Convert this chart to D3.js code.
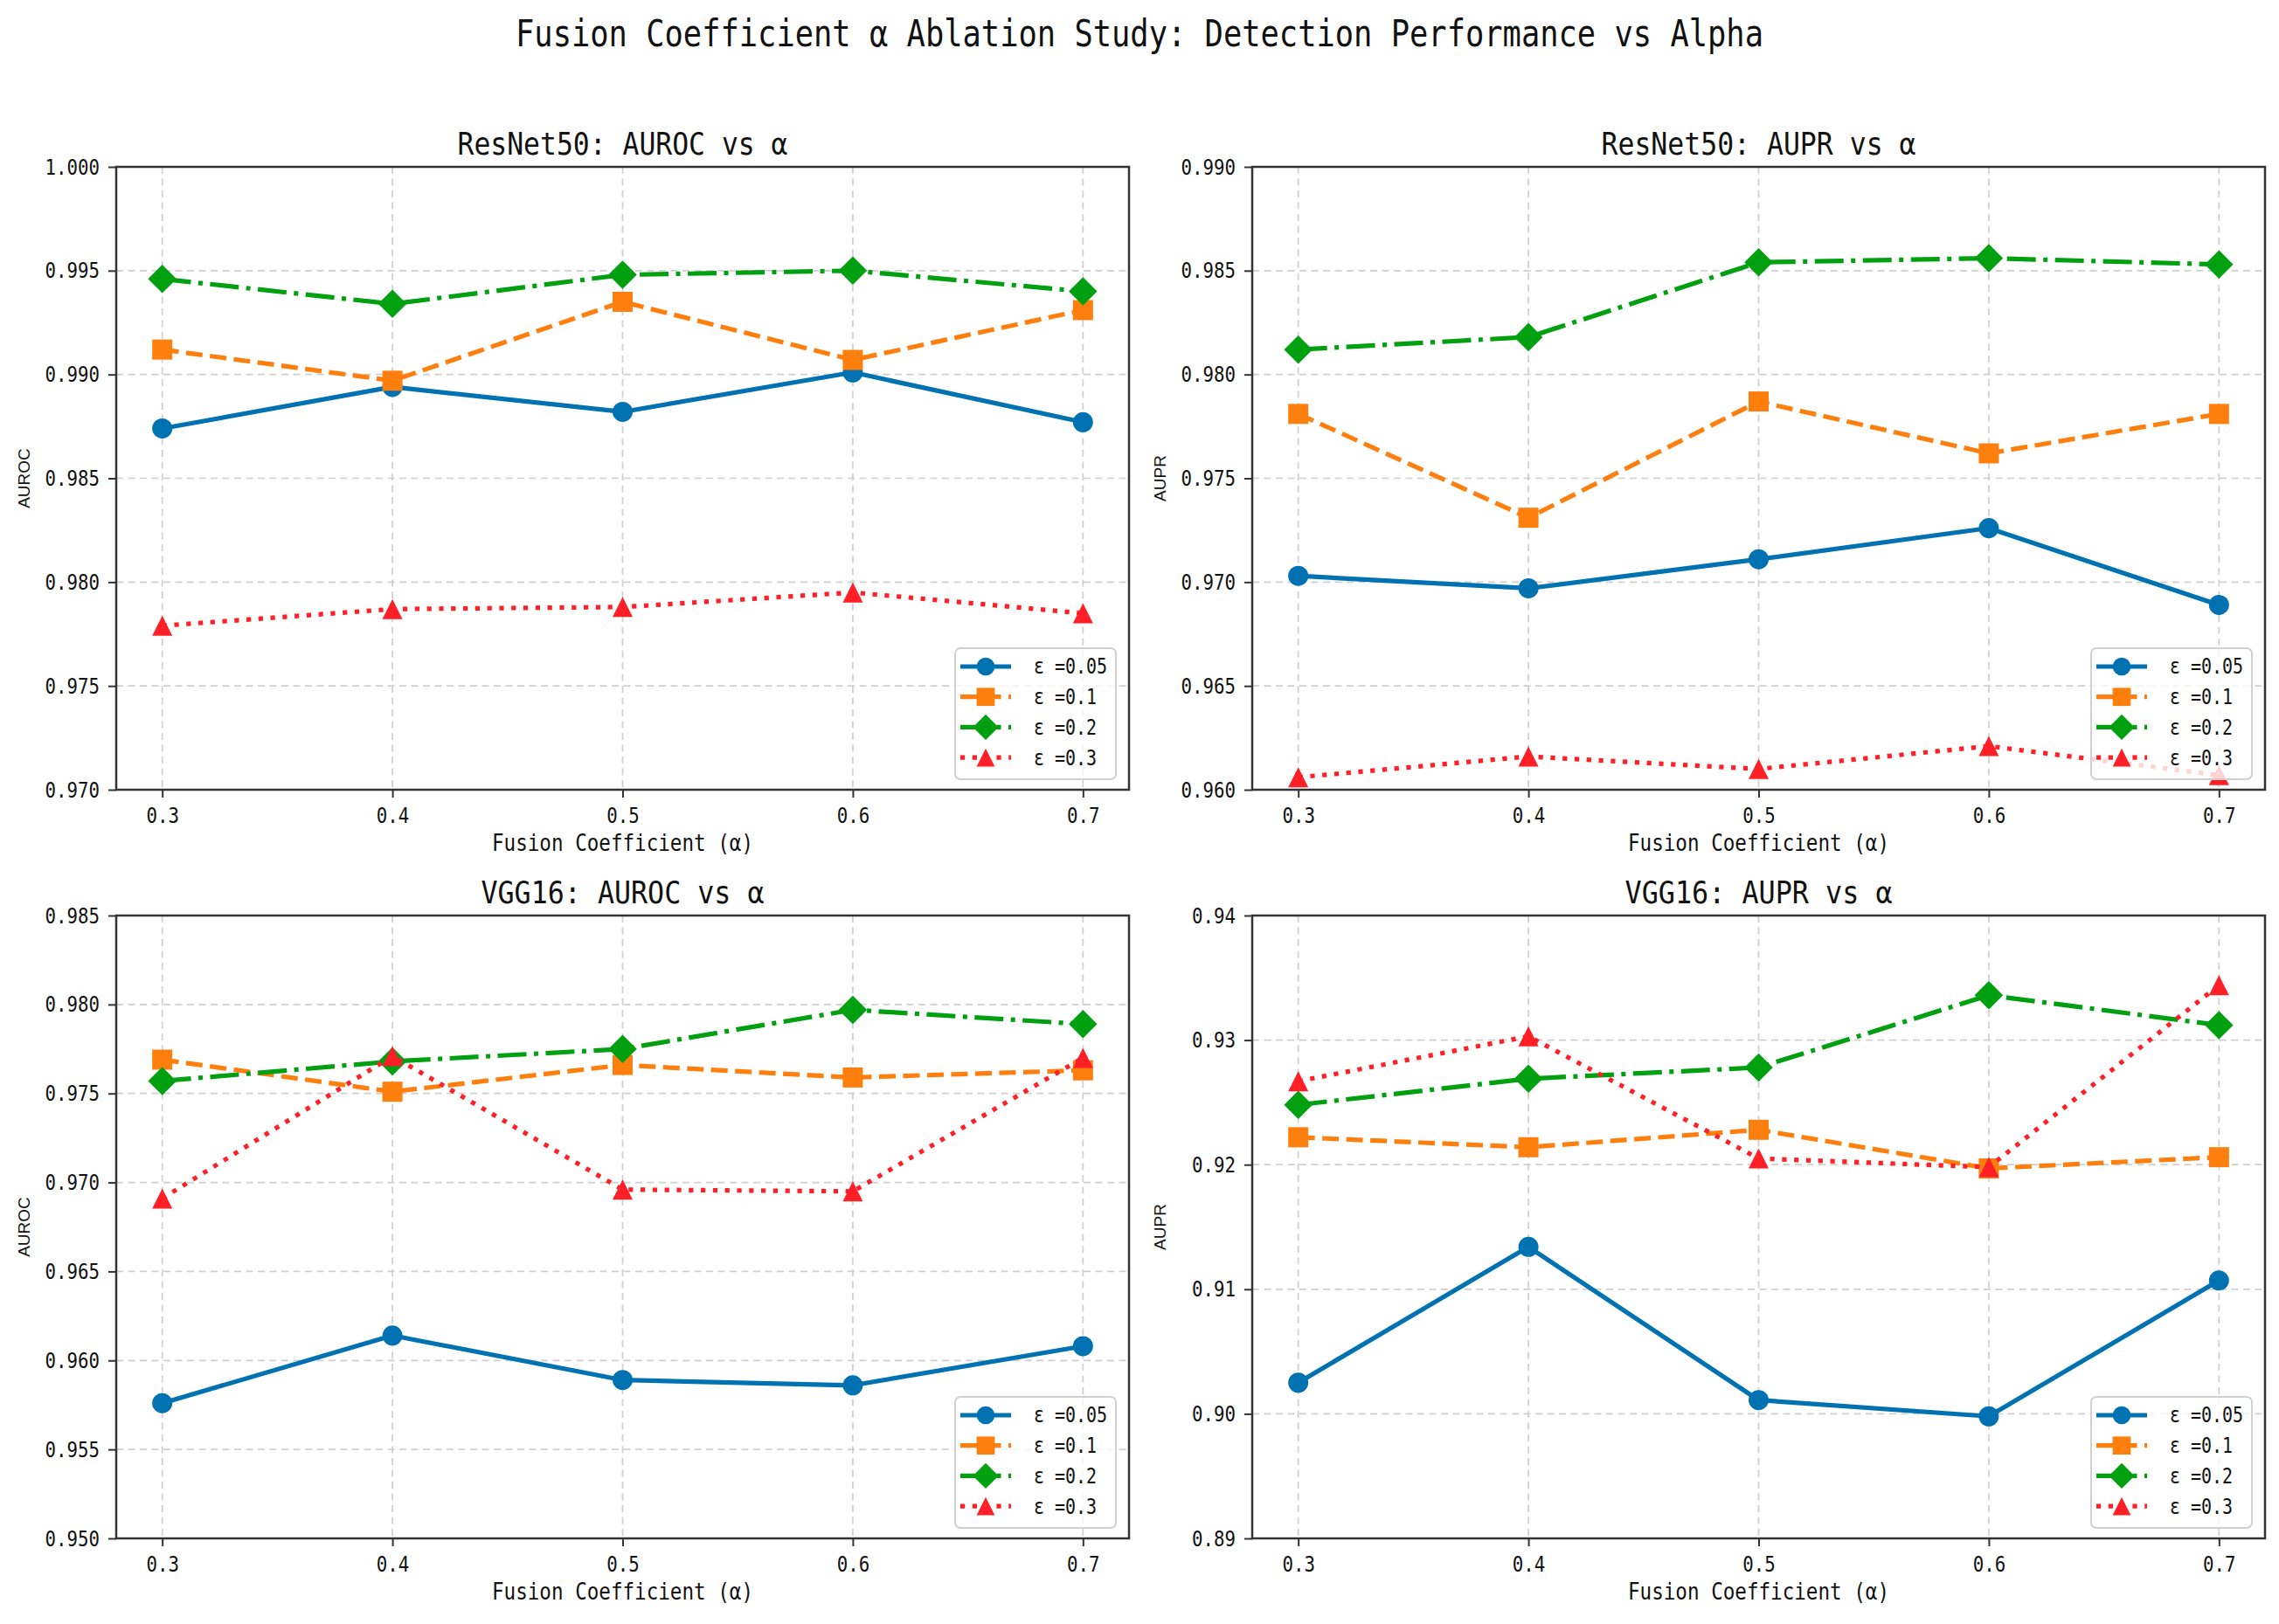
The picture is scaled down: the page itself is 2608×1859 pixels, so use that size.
<!DOCTYPE html>
<html>
<head>
<meta charset="utf-8">
<script src="https://cdn.jsdelivr.net/npm/d3@7"></script>
<style>
  html, body { margin: 0; padding: 0; background: #fff; }
  svg { display: block; }
</style>
</head>
<body>
<div id="chart"></div>
<script>
// x values shared by all four panels
const alphas = [0.3, 0.4, 0.5, 0.6, 0.7];
const epsLabels = ['ε =0.05', 'ε =0.1', 'ε =0.2', 'ε =0.3'];

// values, one row per epsilon
const resnetAuroc = [
    [0.9874, 0.9894, 0.9882, 0.9901, 0.9877],
    [0.9912, 0.9897, 0.9935, 0.9907, 0.9931],
    [0.9946, 0.9934, 0.9948, 0.9950, 0.9940],
    [0.9779, 0.9787, 0.9788, 0.9795, 0.9785]
];
const resnetAupr = [
    [0.9703, 0.9697, 0.9711, 0.9726, 0.9689],
    [0.9781, 0.9731, 0.9787, 0.9762, 0.9781],
    [0.9812, 0.9818, 0.9854, 0.9856, 0.9853],
    [0.9606, 0.9616, 0.9610, 0.9621, 0.9607]
];
const vggAuroc = [
    [0.9576, 0.9614, 0.9589, 0.9586, 0.9608],
    [0.9769, 0.9751, 0.9766, 0.9759, 0.9763],
    [0.9757, 0.9768, 0.9775, 0.9797, 0.9789],
    [0.9691, 0.9771, 0.9696, 0.9695, 0.9770]
];
const vggAupr = [
    [0.9025, 0.9134, 0.9011, 0.8998, 0.9107],
    [0.9222, 0.9214, 0.9228, 0.9197, 0.9206],
    [0.9248, 0.9269, 0.9278, 0.9336, 0.9312],
    [0.9267, 0.9303, 0.9205, 0.9198, 0.9344]
];

// tick values
const resnetAurocTicks = [0.970, 0.975, 0.980, 0.985, 0.990, 0.995, 1.000];
const resnetAuprTicks = [0.960, 0.965, 0.970, 0.975, 0.980, 0.985, 0.990];
const vggAurocTicks = [0.950, 0.955, 0.960, 0.965, 0.970, 0.975, 0.980, 0.985];
const vggAuprTicks = [0.89, 0.90, 0.91, 0.92, 0.93, 0.94];

const W = 2608, H = 1859;
const plotW = 1159, plotH = 713;

// line style per epsilon
const styles = [
    { color: '#0072b2', dash: null, marker: 'circle' },
    { color: '#ff7f0e', dash: '19,8.5', marker: 'square' },
    { color: '#00a010', dash: '33,8.5,5,8.5', marker: 'diamond' },
    { color: '#ff1f26', dash: '5.2,8.6', marker: 'triangle' }
];

const panels = [
    { title: 'ResNet50: AUROC vs α', ylabel: 'AUROC', data: resnetAuroc, ticks: resnetAurocTicks, fmt: '.3f', left: 133, top: 191 },
    { title: 'ResNet50: AUPR vs α', ylabel: 'AUPR', data: resnetAupr, ticks: resnetAuprTicks, fmt: '.3f', left: 1433, top: 191 },
    { title: 'VGG16: AUROC vs α', ylabel: 'AUROC', data: vggAuroc, ticks: vggAurocTicks, fmt: '.3f', left: 133, top: 1048 },
    { title: 'VGG16: AUPR vs α', ylabel: 'AUPR', data: vggAupr, ticks: vggAuprTicks, fmt: '.2f', left: 1433, top: 1048 }
];

// the reference uses a CJK font whose latin glyphs are half-width; fake it with a squeezed mono
// wide: how many half-width cells a non-latin char takes (alpha is full width there)
function halfWidth(sel, size, wide = 2) {
    sel.attr('font-family', '"DejaVu Sans Mono", monospace')
        .attr('font-size', size)
        .attr('fill', '#111')
        .each(function() {
            const units = [...this.textContent].reduce((a, c) => a + (c.charCodeAt(0) > 255 ? wide : 1), 0);
            this.setAttribute('textLength', units * size * 0.5);
            this.setAttribute('lengthAdjust', 'spacingAndGlyphs');
        });
}

function markerPath(type) {
    const p = d3.path();
    const s = 11.5;
    if (type === 'circle') {
        p.arc(0, 0, s, 0, 2 * Math.PI);
    } else if (type === 'square') {
        p.rect(-s, -s, 2 * s, 2 * s);
    } else if (type === 'diamond') {
        const d = s * Math.SQRT2;
        p.moveTo(0, -d); p.lineTo(d, 0); p.lineTo(0, d); p.lineTo(-d, 0); p.closePath();
    } else {
        p.moveTo(0, -s); p.lineTo(s, s); p.lineTo(-s, s); p.closePath();
    }
    return p.toString();
}

const svg = d3.select('#chart').append('svg')
    .attr('width', W)
    .attr('height', H);

svg.append('text')
    .attr('x', 1304)
    .attr('y', 38)
    .attr('dy', '0.35em')
    .attr('text-anchor', 'middle')
    .text('Fusion Coefficient α Ablation Study: Detection Performance vs Alpha')
    .call(halfWidth, 42);

const x = d3.scaleLinear().domain([0.28, 0.72]).range([0, plotW]);

panels.forEach((pn, pi) => {
    const y = d3.scaleLinear().domain(d3.extent(pn.ticks)).range([plotH, 0]);
    const g = svg.append('g').attr('transform', `translate(${pn.left},${pn.top})`);

    g.append('clipPath').attr('id', 'clip' + pi)
        .append('rect').attr('width', plotW).attr('height', plotH);

    // grid
    g.append('g').selectAll('line').data(alphas).enter().append('line')
        .attr('x1', d => x(d)).attr('x2', d => x(d))
        .attr('y1', 0).attr('y2', plotH)
        .attr('stroke', '#cfcfcf').attr('stroke-width', 1.7).attr('stroke-dasharray', '8,5.5');
    g.append('g').selectAll('line').data(pn.ticks).enter().append('line')
        .attr('y1', d => y(d)).attr('y2', d => y(d))
        .attr('x1', 0).attr('x2', plotW)
        .attr('stroke', '#cfcfcf').attr('stroke-width', 1.7).attr('stroke-dasharray', '8,5.5');

    // series
    const line = d3.line().x((d, i) => x(alphas[i])).y(d => y(d));
    const sg = g.append('g').attr('clip-path', `url(#clip${pi})`);
    pn.data.forEach((vals, si) => {
        const st = styles[si];
        sg.append('path')
            .datum(vals)
            .attr('d', line)
            .attr('fill', 'none')
            .attr('stroke', st.color)
            .attr('stroke-width', 5.2)
            .attr('stroke-dasharray', st.dash)
            .attr('stroke-linejoin', 'round');
        sg.append('g').selectAll('path').data(vals).enter().append('path')
            .attr('transform', (d, i) => `translate(${x(alphas[i])},${y(d)})`)
            .attr('d', markerPath(st.marker))
            .attr('fill', st.color);
    });

    // axes
    const xAxis = g.append('g').attr('transform', `translate(0,${plotH})`)
        .call(d3.axisBottom(x).tickValues(alphas).tickFormat(d3.format('.1f')).tickSize(9).tickPadding(10));
    const yAxis = g.append('g')
        .call(d3.axisLeft(y).tickValues(pn.ticks).tickFormat(d3.format(pn.fmt)).tickSize(9).tickPadding(10));
    [xAxis, yAxis].forEach(ax => {
        ax.select('.domain').remove();
        ax.selectAll('.tick line').attr('stroke', '#333').attr('stroke-width', 2);
    });
    xAxis.selectAll('.tick text').attr('dy', '0.75em').call(halfWidth, 25);
    yAxis.selectAll('.tick text').call(halfWidth, 25);

    g.append('rect')
        .attr('width', plotW).attr('height', plotH)
        .attr('fill', 'none').attr('stroke', '#333').attr('stroke-width', 2.5);

    // titles and labels
    g.append('text')
        .attr('x', plotW / 2).attr('y', -27).attr('dy', '0.35em')
        .attr('text-anchor', 'middle')
        .text(pn.title)
        .call(halfWidth, 36);
    g.append('text')
        .attr('x', plotW / 2).attr('y', plotH + 61).attr('dy', '0.35em')
        .attr('text-anchor', 'middle')
        .text('Fusion Coefficient (α)')
        .call(halfWidth, 26);
    g.append('text')
        .attr('transform', `translate(-106,${plotH / 2}) rotate(-90)`)
        .attr('dy', '0.35em')
        .attr('text-anchor', 'middle')
        .attr('font-family', '"Liberation Sans", Arial, sans-serif')
        .attr('font-size', 19)
        .attr('fill', '#111')
        .text(pn.ylabel);

    // legend, lower right
    const lw = 184, lh = 150;
    const lg = g.append('g').attr('transform', `translate(${plotW - 15 - lw},${plotH - 12 - lh})`);
    lg.append('rect')
        .attr('width', lw).attr('height', lh).attr('rx', 6)
        .attr('fill', 'rgba(255,255,255,0.8)')
        .attr('stroke', '#d0d0d0').attr('stroke-width', 2);
    epsLabels.forEach((lab, si) => {
        const st = styles[si];
        const ry = 21 + si * 34.7;
        lg.append('line')
            .attr('x1', 6).attr('x2', 64).attr('y1', ry).attr('y2', ry)
            .attr('stroke', st.color).attr('stroke-width', 5.2)
            .attr('stroke-dasharray', st.dash);
        lg.append('path')
            .attr('transform', `translate(35,${ry}) scale(0.9)`)
            .attr('d', markerPath(st.marker))
            .attr('fill', st.color);
        lg.append('text')
            .attr('x', 90).attr('y', ry).attr('dy', '0.35em')
            .text(lab)
            .call(halfWidth, 24, 1);
    });
});
</script>
</body>
</html>
